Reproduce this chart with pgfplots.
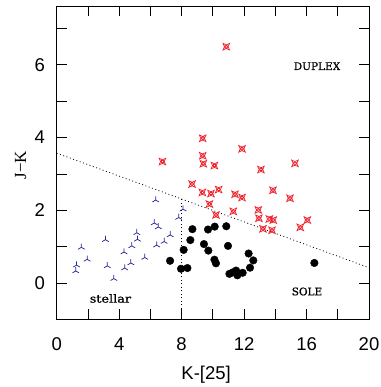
\documentclass[border=0pt]{standalone}
\usepackage{fontspec}
\setmainfont{Liberation Sans}
\newfontfamily\labfont[FakeBold=0.8]{DejaVu Serif}
\newfontfamily\tnr{Liberation Serif}
\usepackage{pgfplots}
\pgfplotsset{compat=1.18}
\definecolor{starred}{RGB}{240,30,40}
\definecolor{triblue}{RGB}{40,40,150}
\pgfdeclareplotmark{cstar}{%
  \pgfpathmoveto{\pgfqpoint{\pgfplotmarksize}{\pgfplotmarksize}}%
  \pgfpathlineto{\pgfqpoint{0pt}{0.55\pgfplotmarksize}}%
  \pgfpathlineto{\pgfqpoint{-\pgfplotmarksize}{\pgfplotmarksize}}%
  \pgfpathlineto{\pgfqpoint{-0.55\pgfplotmarksize}{0pt}}%
  \pgfpathlineto{\pgfqpoint{-\pgfplotmarksize}{-\pgfplotmarksize}}%
  \pgfpathlineto{\pgfqpoint{0pt}{-0.55\pgfplotmarksize}}%
  \pgfpathlineto{\pgfqpoint{\pgfplotmarksize}{-\pgfplotmarksize}}%
  \pgfpathlineto{\pgfqpoint{0.55\pgfplotmarksize}{0pt}}%
  \pgfpathclose
  \pgfpathrectanglecorners{\pgfqpoint{-0.3\pgfplotmarksize}{-0.3\pgfplotmarksize}}{\pgfqpoint{0.3\pgfplotmarksize}{0.3\pgfplotmarksize}}%
  \pgfusepathqstroke
}
\begin{document}
\begin{tikzpicture}
\useasboundingbox (-56.7pt,-67.7pt) rectangle (323.3pt,319.3pt);
\begin{axis}[
  scale only axis, width=312.3pt, height=313.3pt,
  xmin=0, xmax=20, ymin=-1, ymax=7.62,
  xtick={0,4,...,20}, minor xtick={2,6,...,18},
  ytick={0,2,4,6}, minor ytick={-1,1,3,5,7},
  tick align=inside, xtick pos=both, ytick pos=both,
  xticklabel pos=bottom, yticklabel pos=left,
  major tick length=10pt, minor tick length=10pt,
  every tick/.style={black, line width=0.8pt},
  axis line style={line width=0.9pt},
  /pgf/number format/assume math mode=true,
  tick label style={font=\fontsize{18.5}{20}\selectfont},
  xticklabel style={anchor=north, inner sep=0pt, yshift=-18pt},
  yticklabel style={anchor=east, inner sep=0pt, xshift=-11.7pt},
  xlabel={K-[25]},
  xlabel style={at={(axis description cs:0.4785,-0.1937)}, anchor=base, font=\fontsize{18.5}{20}\selectfont},
  ylabel={J−K},
  ylabel style={at={(axis description cs:-0.0983,0.4925)}, anchor=base, font=\tnr\fontsize{17}{20}\selectfont},
]
\addplot[black, line width=0.8pt, dash pattern=on 0.9pt off 2.6pt] coordinates {(0,3.57) (20,0.42)};
\addplot[black, line width=0.8pt, dash pattern=on 0.9pt off 2.6pt] coordinates {(8,-1) (8,2.31)};
\addplot[only marks, mark=Mercedes star, mark size=3.8pt, color=triblue, mark options={line width=0.75pt}] coordinates {
(1.22,0.33) (1.27,0.49) (1.58,0.98) (1.95,0.65) (3.12,1.19) (3.24,0.47) (3.66,0.12)
(4.31,0.85) (4.35,0.41) (4.81,1.02) (4.75,0.55) (5.13,1.38) (5.17,1.20) (5.64,0.70)
(6.34,2.28) (6.25,1.65) (6.51,1.54) (6.40,1.04) (6.88,1.14) (7.27,1.32) (7.81,1.80) (8.09,2.03)};
\addplot[only marks, mark=cstar, mark size=3.3pt, color=starred, mark options={line width=0.7pt}] coordinates {
(10.86,6.50) (6.77,3.34) (9.35,3.98) (9.35,3.50) (9.39,3.28) (10.10,3.23) (11.87,3.69)
(13.08,3.12) (15.26,3.29) (8.67,2.72) (9.33,2.49) (9.88,2.46) (10.37,2.57) (11.42,2.44)
(11.87,2.35) (13.85,2.55) (14.94,2.33) (9.78,2.17) (10.20,1.87) (11.31,1.97) (12.91,2.01)
(12.95,1.78) (13.62,1.76) (13.87,1.73) (13.21,1.49) (13.79,1.45) (15.60,1.53) (16.05,1.73)};
\addplot[only marks, mark=*, mark size=3.8pt, color=black] coordinates {
(7.26,0.61) (7.96,0.39) (8.37,0.41) (8.13,0.91) (8.69,1.48) (8.56,1.18) (9.43,1.07)
(9.69,1.47) (10.12,1.55) (10.86,1.56) (9.71,0.89) (10.97,1.02) (10.10,0.64) (10.20,0.54)
(11.06,0.25) (11.27,0.29) (11.49,0.34) (11.57,0.21) (11.91,0.28) (12.29,0.81) (12.59,0.62)
(12.38,0.42) (16.50,0.55)};
\node[font=\labfont\fontsize{10.5}{12}\selectfont, anchor=base] at (axis cs:16.67,5.86) {DUPLEX};
\node[font=\labfont\fontsize{10.5}{12}\selectfont, anchor=base] at (axis cs:16.03,-0.34) {SOLE};
\node[font=\labfont\fontsize{10.5}{12}\selectfont, anchor=base] at (axis cs:3.44,-0.54) {\scalebox{1.22}[1.05]{stellar}};
\end{axis}
\end{tikzpicture}
\end{document}
